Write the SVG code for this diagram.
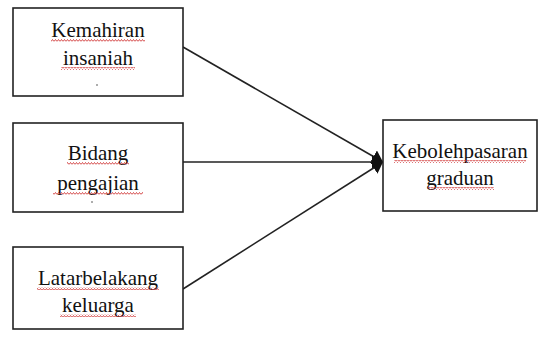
<svg xmlns="http://www.w3.org/2000/svg" width="542" height="339" viewBox="0 0 542 339">
<defs>
<style>
.box{fill:#fff;stroke:#222;stroke-width:1.6}
.t{font-family:"Liberation Serif","Times New Roman",serif;font-size:21px;fill:#111;text-anchor:middle}
.ln{stroke:#222;stroke-width:1.6;fill:none}
.sq{fill:url(#wave)}
.dot{fill:#444}
</style>
<pattern id="wave" width="3" height="3" patternUnits="userSpaceOnUse">
<path d="M0 2.5 L1.5 0.5 L3 2.5" stroke="#d03838" stroke-width="0.9" fill="none"/>
</pattern>
<marker id="ah" markerWidth="12" markerHeight="14" refX="11" refY="7" orient="auto" markerUnits="userSpaceOnUse">
<path d="M0 0 L11 7 L0 14 Z" fill="#111"/>
</marker>
</defs>
<rect width="542" height="339" fill="#fff"/>
<g id="connectors">
<line class="ln" x1="183" y1="47" x2="383" y2="162" marker-end="url(#ah)"/>
<line class="ln" x1="183" y1="162" x2="383" y2="162" marker-end="url(#ah)"/>
<line class="ln" x1="183" y1="289" x2="383" y2="162" marker-end="url(#ah)"/>
</g>
<g id="node-kemahiran">
<rect class="box" x="13" y="8" width="170" height="88"/>
<text class="t" x="98" y="37">Kemahiran</text>
<text class="t" x="98" y="65">insaniah</text>
<rect class="sq" x="51" y="39" width="94" height="3"/>
<rect class="sq" x="61" y="67" width="74" height="3"/>
<circle class="dot" cx="97" cy="85" r="0.8"/>
</g>
<g id="node-bidang">
<rect class="box" x="13" y="123" width="170" height="89"/>
<text class="t" x="98" y="160">Bidang</text>
<text class="t" x="98" y="190">pengajian</text>
<rect class="sq" x="67" y="162" width="62" height="3"/>
<rect class="sq" x="53" y="192" width="90" height="3"/>
<circle class="dot" cx="92" cy="202" r="0.8"/>
</g>
<g id="node-latar">
<rect class="box" x="13" y="247" width="170" height="82"/>
<text class="t" x="98" y="285">Latarbelakang</text>
<text class="t" x="98" y="312">keluarga</text>
<rect class="sq" x="37" y="287" width="122" height="3"/>
<rect class="sq" x="60" y="314" width="76" height="3"/>
</g>
<g id="node-kebolehpasaran">
<rect class="box" x="383" y="120" width="154" height="91"/>
<text class="t" x="460" y="158">Kebolehpasaran</text>
<text class="t" x="460" y="185">graduan</text>
<rect class="sq" x="394" y="160" width="132" height="3"/>
<rect class="sq" x="428" y="187" width="66" height="3"/>
</g>
</svg>
